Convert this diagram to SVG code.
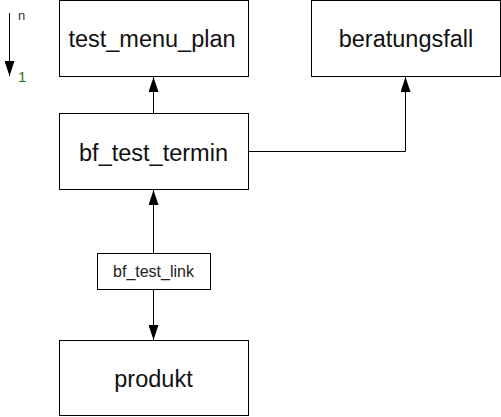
<svg xmlns="http://www.w3.org/2000/svg" width="501" height="417" viewBox="0 0 501 417">
<style>
.box{fill:#fff;stroke:#000;stroke-width:1}
.lbl{font-family:"Liberation Sans",Arial,sans-serif;font-size:23.5px;fill:#111;text-anchor:middle}
.small{font-family:"Liberation Sans",Arial,sans-serif;font-size:16px;fill:#222;text-anchor:middle}
.line{fill:none;stroke:#000;stroke-width:1}
</style>
<defs>
<marker id="arr" markerWidth="15" markerHeight="10" refX="15" refY="5" orient="auto" markerUnits="userSpaceOnUse">
<path d="M0,0 L15,5 L0,10 Z" fill="#000"/>
</marker>
</defs>
<rect width="501" height="417" fill="#fff"/>
<g id="legend">
<line class="line" x1="9.5" y1="13" x2="9.5" y2="76" marker-end="url(#arr)"/>
<text x="18" y="19.5" font-family="Liberation Sans,Arial,sans-serif" font-size="13" fill="#333">n</text>
<text x="18" y="81.5" font-family="Liberation Sans,Arial,sans-serif" font-size="15" fill="#2d6b2d">1</text>
</g>
<g id="connectors">
<line class="line" x1="153.5" y1="113" x2="153.5" y2="77" marker-end="url(#arr)"/>
<polyline class="line" points="248.5,151.5 405.5,151.5 405.5,77" marker-end="url(#arr)"/>
<line class="line" x1="153.5" y1="253" x2="153.5" y2="190" marker-end="url(#arr)"/>
<line class="line" x1="153.5" y1="289" x2="153.5" y2="340" marker-end="url(#arr)"/>
</g>
<g id="test_menu_plan">
<rect class="box" x="59.5" y="0.5" width="189" height="76"/>
<text class="lbl" x="152" y="47">test_menu_plan</text>
</g>
<g id="beratungsfall">
<rect class="box" x="311.5" y="0.5" width="189" height="76"/>
<text class="lbl" x="406" y="47">beratungsfall</text>
</g>
<g id="bf_test_termin">
<rect class="box" x="59.5" y="113.5" width="189" height="76"/>
<text class="lbl" x="153.5" y="160.5">bf_test_termin</text>
</g>
<g id="bf_test_link">
<rect class="box" x="97.5" y="253.5" width="113" height="36"/>
<text class="small" x="153.5" y="277">bf_test_link</text>
</g>
<g id="produkt">
<rect class="box" x="59.5" y="340.5" width="189" height="75"/>
<text class="lbl" x="153.5" y="386.5">produkt</text>
</g>
</svg>
